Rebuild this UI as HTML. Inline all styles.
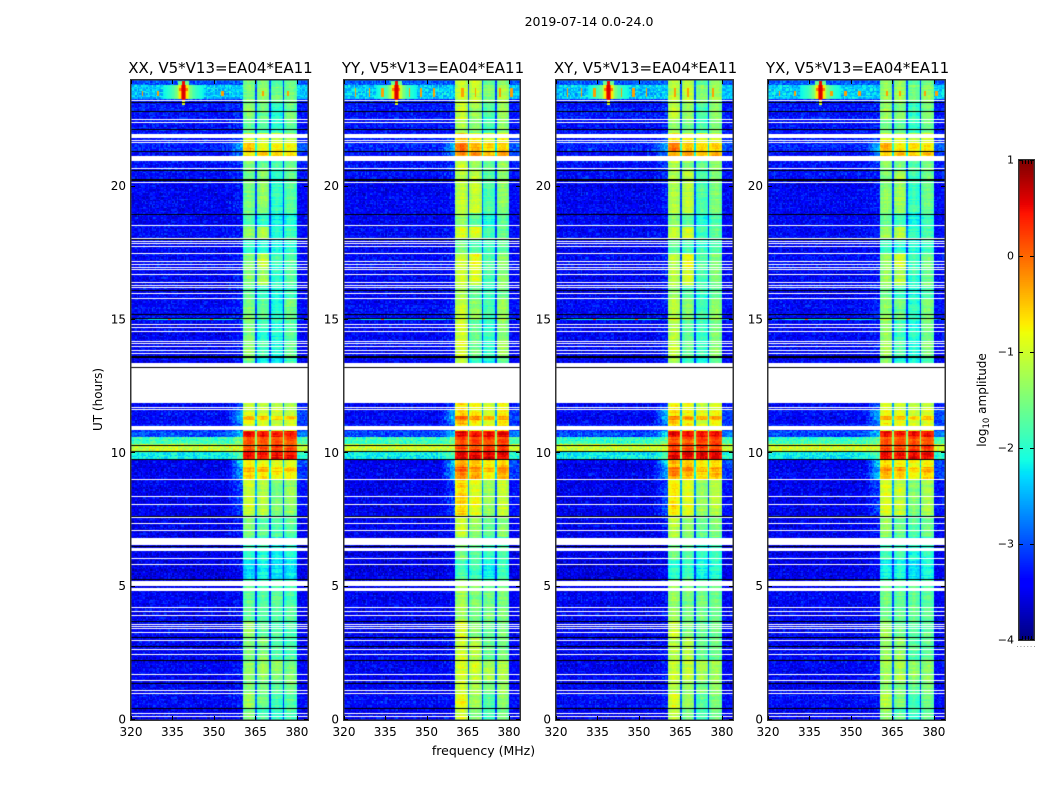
<!DOCTYPE html>
<html>
<head>
<meta charset="utf-8">
<title>2019-07-14 amplitude spectrograms</title>
<style>
  html, body { margin: 0; padding: 0; background: #fff; }
  #figure { position: relative; width: 1050px; height: 800px; overflow: hidden; background: #fff; }
  canvas { position: absolute; display: block; }
  svg { position: absolute; left: 0; top: 0; }
  text { font-family: "DejaVu Sans", "Liberation Sans", sans-serif; fill: #000; }
</style>
</head>
<body>
<div id="figure">
  <svg id="overlay" width="1050" height="800" viewBox="0 0 1050 800">
    <text x="589" y="26" font-size="12.5" text-anchor="middle">2019-07-14 0.0-24.0</text>
    <text x="483.5" y="755" font-size="12.5" text-anchor="middle">frequency (MHz)</text>
    <text transform="translate(102,399.5) rotate(-90)" font-size="12" text-anchor="middle">UT (hours)</text>
    <text transform="translate(986,400) rotate(-90)" font-size="12" text-anchor="middle">log<tspan font-size="8.5" dy="3">10</tspan><tspan dy="-3"> amplitude</tspan></text>
  </svg>
</div>
<script>
// ---- Data read (estimated) from the picture ----
const polarizations = ['XX', 'YY', 'XY', 'YX'];
const xTickLabels = [320, 335, 350, 365, 380];
const yTickLabels = [0, 5, 10, 15, 20];
const colorbarTickLabels = [1, 0, -1, -2, -3, -4];

// Time segments: start hour, then log10 amplitude of background, of the 355-360 MHz shoulder and of the four sub-bands (XX).
const segmentStartHour = [0, 0.5, 1.0, 1.5, 2.2, 3.1, 3.7, 4.8, 5.05, 5.3, 6.0, 6.85, 7.7, 8.98, 9.3, 9.48, 9.79, 10.07, 10.33, 10.6, 10.85, 11.1, 11.23, 11.38, 11.66, 13.23, 13.6, 14.2, 15.0, 15.05, 15.8, 16.3, 17.0, 17.5, 18.0, 18.5, 19.0, 20.3, 20.6, 21.15, 21.35, 21.66, 22.0, 22.5, 23.15, 23.3, 23.8];
const backgroundLog = [-3.5, -3.4, -3.45, -3.45, -3.45, -3.45, -3.45, -3.5, -3.5, -3.55, -3.5, -3.5, -3.5, -3.45, -3.5, -3.5, -2.2, -1.05, -1.9, -3.05, -3.25, -3.45, -3.4, -3.4, -3.45, -3.5, -3.45, -3.45, -2.8, -3.4, -3.45, -3.45, -3.4, -3.45, -3.4, -3.45, -3.45, -3.35, -3.35, -3.35, -3.25, -3.3, -3.35, -3.3, -3.25, -2.4, -2.95];
const shoulderLog = [-3.4, -3.3, -3.4, -3.3, -3.3, -3.4, -3.4, -3.4, -3.4, -3.4, -3.4, -3.3, -3.0, -2.4, -2.5, -2.2, -1.7, -1.05, -1.6, -2.3, -2.8, -2.6, -2.3, -2.4, -3.0, -3.3, -3.3, -3.3, -2.8, -3.2, -3.3, -3.3, -3.3, -3.4, -3.3, -3.4, -3.3, -3.2, -3.1, -2.7, -2.4, -3.0, -3.3, -3.2, -3.2, -2.4, -2.95];
const band1Log = [-1.5, -1.3, -1.5, -1.4, -1.5, -1.4, -1.7, -1.7, -1.8, -2.3, -1.95, -1.5, -1.05, -0.6, -0.4, -0.8, 0.45, 0.1, 0.05, 0.45, -1, -0.9, -0.4, -1.0, -1.1, -1.6, -1.4, -1.5, -1.2, -1.5, -1.7, -1.5, -1.5, -2.0, -1.4, -1.8, -1.55, -1.6, -1.5, -0.7, -0.5, -1.0, -1.7, -1.45, -1.5, -1.5, -1.5];
const band2Log = [-1.85, -1.6, -1.6, -1.35, -1.5, -1.75, -1.8, -1.8, -1.85, -2.2, -2.0, -1.7, -1.2, -0.7, -0.5, -0.85, 0.45, 0.1, 0.05, 0.4, -1, -1.0, -0.55, -1.05, -1.15, -2.2, -1.9, -2.0, -1.6, -1.7, -2.0, -1.3, -1.15, -2.1, -1.25, -2.0, -1.4, -1.4, -1.7, -0.6, -0.8, -1.1, -1.8, -1.6, -1.4, -1.4, -1.4];
const band3Log = [-2.0, -1.9, -1.7, -1.4, -1.8, -1.8, -1.7, -1.8, -1.9, -2.3, -2.1, -1.8, -1.5, -0.85, -0.6, -0.9, 0.5, 0.2, 0.1, 0.45, -1, -1.1, -0.6, -1.1, -1.2, -2.2, -2.1, -2.1, -1.9, -2.0, -2.1, -2.0, -1.9, -2.1, -2.0, -2.2, -1.95, -1.9, -1.8, -0.6, -0.8, -1.1, -2.0, -1.95, -1.6, -1.6, -1.9];
const band4Log = [-1.8, -1.7, -1.6, -1.5, -1.8, -1.8, -1.8, -1.8, -1.9, -2.2, -2.1, -1.7, -1.35, -0.7, -0.5, -0.85, 0.5, 0.15, 0.1, 0.45, -1, -1.0, -0.55, -1.05, -1.15, -1.9, -1.6, -1.7, -1.5, -1.6, -1.9, -1.7, -1.7, -2.0, -1.9, -2.0, -1.7, -1.7, -1.6, -0.6, -0.8, -1.1, -1.7, -1.6, -1.5, -1.5, -1.6];

// Per-polarization amplitude offsets for each sub-band, relative to XX.
const polarizationBandOffsetXX = [0, 0, 0, 0];
const polarizationBandOffsetYY = [0.45, 0.3, 0.15, 0.25];
const polarizationBandOffsetXY = [0.35, 0.25, 0.12, 0.2];
const polarizationBandOffsetYX = [0.12, 0.1, 0.03, 0.08];

// Sub-band passband shape, nine 0.5 MHz channels.
const bandShape = [-0.2, -0.08, 0, 0.05, 0.06, 0.05, 0, -0.06, -0.2];

// Flagged (white) and bad (black) times, hours.
const flaggedIntervalStart = [4.82, 5.04, 6.33, 6.56, 7.57, 10.88, 11.88, 13.25, 20.97, 21.83];
const flaggedIntervalEnd = [4.94, 5.21, 6.44, 6.83, 7.63, 11.04, 13.23, 13.40, 21.15, 21.97];
const flaggedLineHours = [0.14, 0.27, 1.02, 1.11, 1.51, 1.73, 2.48, 2.67, 3.0, 3.29, 3.44, 3.51, 3.6, 3.94, 4.07, 4.23, 5.86, 6.07, 7.13, 7.39, 8.11, 8.41, 9.03, 11.65, 11.73, 13.75, 13.89, 14.01, 14.14, 14.2, 14.59, 14.72, 14.85, 15.82, 16.02, 16.25, 16.31, 16.41, 16.72, 16.9, 17.0, 17.11, 17.21, 17.51, 17.79, 17.89, 17.96, 18.06, 18.56, 20.19, 20.7, 21.66, 21.75, 22.44, 22.54, 23.25];
const blackLineHours = [0.44, 1.39, 2.26, 2.76, 3.12, 3.71, 5.28, 6.51, 7.65, 9.79, 10.07, 10.33, 13.25, 13.6, 13.63, 13.66, 15.08, 15.23, 16.13, 18.05, 18.96, 20.3, 20.25, 20.62, 21.35, 22.16, 22.85, 23.16];

// RFI at the top of the day: strong carrier and narrow spikes, MHz per polarization.
const carrierMHz = 338.8;
const carrierProfile = [0.6, 0.1, -0.7, -1.1, -1.4, -1.55, -1.7, -1.8, -1.9, -1.95, -2.0, -2.05, -2.1, -2.15, -2.2];
const spikesXX = [324.4, 329.6, 353, 367.7, 376.7];
const spikesYY = [324.4, 329.2, 334, 343.6, 348, 352.7, 363, 367.7, 376.7, 381];
const spikesXY = [324.4, 329.2, 334, 343.6, 348, 352.7, 363, 367.7, 376.7];
const spikesYX = [324.4, 329.6, 343, 348, 353, 363, 367.7, 376.7, 381];

// RFI streak near 15 h.
const streakMHz = [334, 349];

// Hand-typed fine-grain texture estimates (amplitude of the speckle seen in the picture, not measured per cell).
const rowTexture = [0.1, -0.12, 0.04, 0.18, -0.06, -0.2, 0.08, 0.02, -0.14, 0.16, 0.06, -0.08, -0.02, 0.2, -0.16, 0.05, 0.12, -0.1, -0.04, 0.14, -0.18, 0.03, 0.09, -0.07, 0.17, -0.13, 0, 0.11, -0.19, 0.07, -0.03, 0.15, -0.11, 0.01, 0.19, -0.15, -0.05, 0.13, 0.06, -0.09, 0.02, -0.17, 0.1, 0.16, -0.01, -0.12, 0.08];
const channelTexture = [0.05, -0.08, 0.12, -0.02, 0.06, -0.12, 0.09, 0.01, -0.06, 0.14, -0.1, 0.03, 0.07, -0.04, -0.13, 0.1, 0.02, -0.07, 0.11, -0.01, 0.04, -0.11, 0.08, -0.05, 0.13, -0.09, 0, 0.06, -0.03, 0.1, -0.06];
const cellTexture = [0.21, -0.34, 0.08, 0.42, -0.17, -0.05, 0.3, -0.41, 0.13, -0.25, 0.55, -0.09, 0.02, -0.38, 0.26, 0.11, -0.2, 0.47, -0.31, -0.02, 0.17, -0.44, 0.36, 0.05, -0.13, 0.24, -0.28, 0.6, -0.07, -0.36, 0.15, 0.33, -0.22, 0.01, -0.48, 0.28, 0.1, -0.16, 0.4, -0.3, 0.06, 0.19, -0.39, -0.11, 0.5, -0.24, 0.03, 0.22, -0.33, 0.14, -0.04, 0.38, -0.19, -0.45, 0.27, 0.09, -0.27, 0.45, -0.12, 0.07, -0.35];

// ---- Axis functions ----
const SVGNS = 'http://www.w3.org/2000/svg';
const svg = document.getElementById('overlay');
const figure = document.getElementById('figure');
const plotTop = 80, plotHeight = 640;
const panelLeft = [131, 344, 556, 768];
const panelWidth = [177, 176, 177, 177];
const MHZ_MIN = 320, MHZ_SPAN = 64, HOUR_SPAN = 24;
const xScale = (mhz, width) => (mhz - MHZ_MIN) / MHZ_SPAN * width;
const yScale = hour => plotHeight - hour / HOUR_SPAN * plotHeight;
const cbLeft = 1019, cbWidth = 15, cbTop = 160, cbHeight = 480;
const cbScale = v => cbTop + (1 - v) / 5 * cbHeight;

function jet(t) {
  t = Math.max(0, Math.min(1, t));
  const ramp = (x, pts) => {
    for (let i = 1; i < pts.length; i++) {
      if (x <= pts[i][0]) {
        const a = pts[i - 1], b = pts[i];
        return a[1] + (b[1] - a[1]) * (x - a[0]) / (b[0] - a[0]);
      }
    }
    return pts[pts.length - 1][1];
  };
  const r = ramp(t, [[0, 0], [0.35, 0], [0.66, 1], [0.89, 1], [1, 0.5]]);
  const g = ramp(t, [[0, 0], [0.125, 0], [0.375, 1], [0.64, 1], [0.91, 0], [1, 0]]);
  const b = ramp(t, [[0, 0.5], [0.11, 1], [0.34, 1], [0.65, 0], [1, 0]]);
  return 'rgb(' + Math.round(r * 255) + ',' + Math.round(g * 255) + ',' + Math.round(b * 255) + ')';
}
const logToColor = [];
for (let i = 0; i <= 255; i++) logToColor.push(jet(i / 255));
const colorOf = v => logToColor[Math.max(0, Math.min(255, Math.round((v + 4) / 5 * 255)))];

function segmentIndex(hour) {
  let k = 0;
  for (let i = 0; i < segmentStartHour.length; i++) {
    if (hour >= segmentStartHour[i]) k = i;
  }
  return k;
}

function cellValue(p, c, r, mhz, hour) {
  const s = segmentIndex(hour);
  const bandOffsets = [polarizationBandOffsetXX, polarizationBandOffsetYY, polarizationBandOffsetXY, polarizationBandOffsetYX][p];
  const bands = [band1Log, band2Log, band3Log, band4Log];
  const tex = cellTexture[(c * c * 7 + r * r * 11 + c * r * 3 + c * 13 + r * 29 + p * 7) % cellTexture.length];
  const rowN = rowTexture.length;
  const rowT = rowTexture[(r * r * 3 + r * 5 + p * 5) % rowN];
  const chT = channelTexture[c % channelTexture.length];
  let v;
  const rel = (mhz - 360.5) / 5;
  const bandIdx = Math.floor(rel);
  const inPass = mhz >= 360.5 && mhz < 380 && (mhz - 360.5 - bandIdx * 5) < 4.5;
  if (inPass) {
    const ci = Math.floor((mhz - 360.5 - bandIdx * 5) * 2);
    const level = bands[bandIdx][s];
    const off = level > -0.2 ? bandOffsets[bandIdx] * 0.25 : bandOffsets[bandIdx];
    const bandRowT = rowTexture[(r * r * 3 + r * 5 + bandIdx * 11 + p * 5) % rowN];
    v = level + off + bandShape[ci] + bandRowT * 0.7 + tex * 0.25 + chT * 0.3;
    return Math.min(1, v);
  }
  const bg = backgroundLog[s];
  if (mhz >= 360.5 && mhz < 380) {
    const gapLevel = Math.max(-3.1, Math.min(bands[bandIdx][s] - 1.5, -1.4));
    return gapLevel + tex * 0.25;
  }
  if (mhz >= 380) {
    return bg + (shoulderLog[s] - bg) * 0.35 + rowT * 0.3 + tex * 0.55;
  }
  v = bg + rowT * 0.4 + tex * 0.65 + chT * 0.35;
  if (mhz >= 355) {
    const w = (mhz - 355) / 5.5;
    v += (shoulderLog[s] - bg) * w;
  }
  return v;
}

function drawPanel(p, ctx, width) {
  const spikes = [spikesXX, spikesYY, spikesXY, spikesYX][p];
  const spikeLow = (p === 0 || p === 3) ? 23.42 : 23.33;
  const spikeHigh = (p === 0 || p === 3) ? 23.62 : 23.72;
  for (let r = 0; r < 480; r++) {
    const hour = (r + 0.5) * 0.05;
    const y0 = Math.round(yScale((r + 1) * 0.05));
    const y1 = Math.round(yScale(r * 0.05));
    for (let c = 0; c < 128; c++) {
      const mhz = MHZ_MIN + (c + 0.5) * 0.5;
      let v = cellValue(p, c, r, mhz, hour);
      const dist = Math.floor(Math.abs(mhz - carrierMHz) * 2);
      if (hour >= 23.3 && hour < 23.8 && dist < carrierProfile.length) {
        v = Math.max(v, carrierProfile[dist]);
      }
      if (hour >= 23.58 && hour < 23.72 && dist <= 2) v = Math.max(v, dist <= 1 ? 0.4 : -0.1);
      if (hour >= 23.05 && hour < 23.95 && dist <= 0) v = Math.max(v, hour < 23.18 ? -0.9 : 0.5);
      if (hour >= 23.8 && hour < 23.95 && dist <= 3) v = Math.max(v, -1.6);
      if (hour >= spikeLow && hour < spikeHigh) {
        for (let k = 0; k < spikes.length; k++) {
          if (Math.abs(mhz - spikes[k]) < 0.3) v = Math.max(v, -0.3);
        }
      }
      if (hour >= 15.0 && hour < 15.05) {
        for (let k = 0; k < streakMHz.length; k++) {
          if (Math.abs(mhz - streakMHz[k]) < 0.6) v = 0.1;
          else if (Math.abs(mhz - streakMHz[k]) < 8) v = Math.max(v, -2.2);
        }
      }
      ctx.fillStyle = colorOf(v);
      const x0 = Math.round(xScale(MHZ_MIN + c * 0.5, width));
      const x1 = Math.round(xScale(MHZ_MIN + (c + 1) * 0.5, width));
      ctx.fillRect(x0, y0, x1 - x0, y1 - y0);
    }
  }
  ctx.fillStyle = '#fff';
  for (let i = 0; i < flaggedIntervalStart.length; i++) {
    const y0 = Math.round(yScale(flaggedIntervalEnd[i]));
    const y1 = Math.round(yScale(flaggedIntervalStart[i]));
    ctx.fillRect(0, y0, width, y1 - y0);
  }
  for (let i = 0; i < flaggedLineHours.length; i++) {
    ctx.fillRect(0, Math.round(yScale(flaggedLineHours[i])), width, 1);
  }
  ctx.fillStyle = '#000';
  for (let i = 0; i < blackLineHours.length; i++) {
    ctx.fillRect(0, Math.round(yScale(blackLineHours[i])), width, 1);
  }
}

function addLine(parent, x1, y1, x2, y2, name) {
  const l = document.createElementNS(SVGNS, 'line');
  l.setAttribute('x1', x1);
  l.setAttribute('y1', y1);
  l.setAttribute('x2', x2);
  l.setAttribute('y2', y2);
  l.setAttribute('stroke', '#000');
  l.setAttribute('stroke-width', '1');
  
  
  parent.appendChild(l);
  return l;
}

function addText(parent, x, y, anchor, size, content, name) {
  const t = document.createElementNS(SVGNS, 'text');
  t.setAttribute('x', x);
  t.setAttribute('y', y);
  t.setAttribute('text-anchor', anchor);
  t.setAttribute('font-size', size);
  
  
  t.textContent = content;
  parent.appendChild(t);
  return t;
}

polarizations.forEach((pol, p) => {
  const left = panelLeft[p];
  const width = panelWidth[p];
  const cv = document.createElement('canvas');
  cv.width = width;
  cv.height = plotHeight;
  cv.style.left = left + 'px';
  cv.style.top = plotTop + 'px';
  
  
  figure.insertBefore(cv, svg);
  drawPanel(p, cv.getContext('2d'), width);

  const g = document.createElementNS(SVGNS, 'g');
  
  
  svg.appendChild(g);

  const frame = document.createElementNS(SVGNS, 'rect');
  frame.setAttribute('x', left - 0.25);
  frame.setAttribute('y', plotTop - 0.25);
  frame.setAttribute('width', width + 0.5);
  frame.setAttribute('height', plotHeight + 0.5);
  frame.setAttribute('fill', 'none');
  frame.setAttribute('stroke', '#333');
  frame.setAttribute('stroke-width', '1.5');
  
  
  g.appendChild(frame);

  xTickLabels.forEach(tick => {
    const x = Math.round(left + xScale(tick, width)) + 0.5;
    addLine(g, x, plotTop + plotHeight, x, plotTop + plotHeight - 4, 'x-tick');
    addLine(g, x, plotTop, x, plotTop + 4, 'x-tick-top');
    addText(g, left + xScale(tick, width), plotTop + plotHeight + 16, 'middle', 12, String(tick), 'x-tick-label');
  });
  yTickLabels.forEach(tick => {
    const y = Math.round(plotTop + yScale(tick)) - 0.5;
    addLine(g, left, y, left + 4, y, 'y-tick');
    addLine(g, left + width, y, left + width - 4, y, 'y-tick-right');
    addText(g, left - 5, plotTop + yScale(tick) + 3.5, 'end', 12, String(tick), 'y-tick-label');
  });
  addText(g, left + width / 2 + 1, plotTop - 7, 'middle', 15, pol + ', V5*V13=EA04*EA11', 'panel-title');
});

// ---- Colorbar ----
const cbGroup = document.createElementNS(SVGNS, 'g');


svg.appendChild(cbGroup);
for (let i = 0; i < 256; i++) {
  const a = cbTop + cbHeight * i / 256;
  const swatch = document.createElementNS(SVGNS, 'rect');
  swatch.setAttribute('x', cbLeft);
  swatch.setAttribute('y', a);
  swatch.setAttribute('width', cbWidth);
  swatch.setAttribute('height', cbHeight / 256 + 0.5);
  swatch.setAttribute('fill', logToColor[255 - i]);
  
  
  cbGroup.appendChild(swatch);
}
const cbFrame = document.createElementNS(SVGNS, 'rect');
cbFrame.setAttribute('x', cbLeft - 0.25);
cbFrame.setAttribute('y', cbTop - 0.25);
cbFrame.setAttribute('width', cbWidth + 0.5);
cbFrame.setAttribute('height', cbHeight + 0.5);
cbFrame.setAttribute('fill', 'none');
cbFrame.setAttribute('stroke', '#333');
cbFrame.setAttribute('stroke-width', '1.5');


cbGroup.appendChild(cbFrame);
colorbarTickLabels.forEach(v => {
  const y = Math.min(cbTop + cbHeight - 0.5, Math.round(cbScale(v)) + 0.5);
  addLine(cbGroup, cbLeft, y, cbLeft + 4, y, 'colorbar-tick');
  addLine(cbGroup, cbLeft + cbWidth, y, cbLeft + cbWidth - 4, y, 'colorbar-tick-right');
  addText(cbGroup, cbLeft - 5, cbScale(v) + 3.5, 'end', 11, v < 0 ? '\u2212' + Math.abs(v) : String(v), 'colorbar-tick-label');
});
[0.2, 0.4, 0.6, 0.8].forEach(frac => {
  const x = Math.round(cbLeft + cbWidth * frac) + 0.5;
  addLine(cbGroup, x, cbTop, x, cbTop + 4, 'colorbar-minor-tick');
  addLine(cbGroup, x, cbTop + cbHeight, x, cbTop + cbHeight - 4, 'colorbar-minor-tick');
});
const cbDots = addLine(cbGroup, 1017, 646.5, 1035, 646.5, 'colorbar-dotted-labels');
cbDots.setAttribute('stroke', '#999');
cbDots.setAttribute('stroke-dasharray', '1 2.4');
</script>
</body>
</html>
